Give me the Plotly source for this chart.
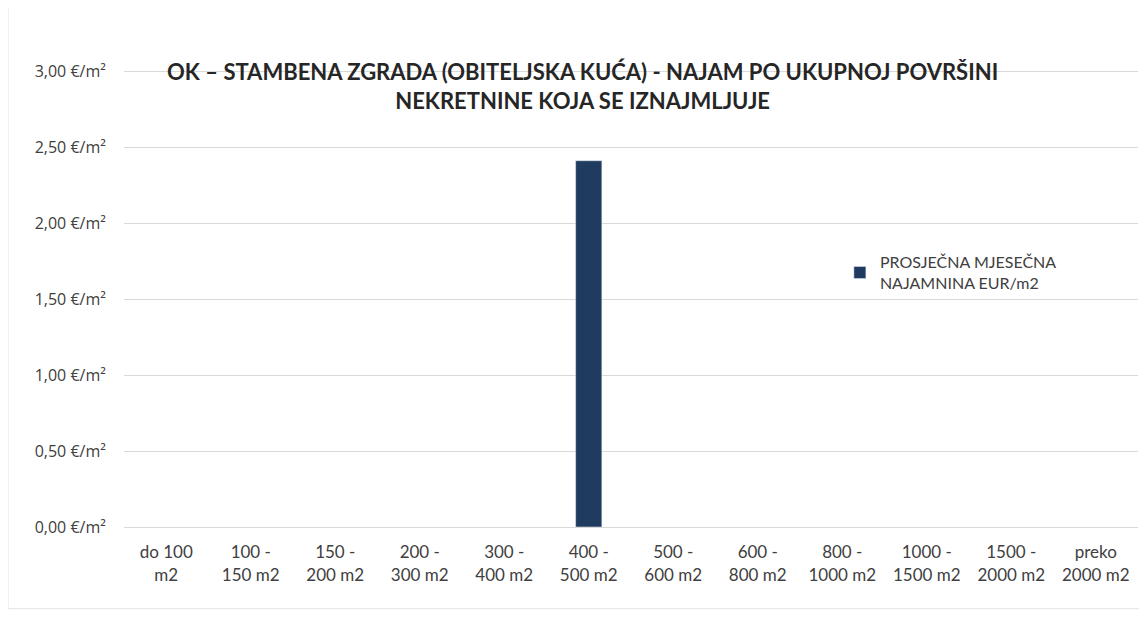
import plotly.graph_objects as go

categories = ["do 100<br>m2", "100 -<br>150 m2", "150 -<br>200 m2", "200 -<br>300 m2",
              "300 -<br>400 m2", "400 -<br>500 m2", "500 -<br>600 m2", "600 -<br>800 m2",
              "800 -<br>1000 m2", "1000 -<br>1500 m2", "1500 -<br>2000 m2", "preko<br>2000 m2"]
values = [None, None, None, None, None, 2.41, None, None, None, None, None, None]
series_name = "PROSJEČNA MJESEČNA<br>NAJAMNINA EUR/m2"
y_tick_vals = [0, 0.5, 1.0, 1.5, 2.0, 2.5, 3.0]
y_tick_text = ["0,00 €/m²", "0,50 €/m²", "1,00 €/m²", "1,50 €/m²", "2,00 €/m²", "2,50 €/m²", "3,00 €/m²"]
title_text = "<b>OK – STAMBENA ZGRADA (OBITELJSKA KUĆA) - NAJAM PO UKUPNOJ POVRŠINI<br>NEKRETNINE KOJA SE IZNAJMLJUJE</b>"

font_family = "Lato, Liberation Sans, sans-serif"

fig = go.Figure()
fig.add_trace(go.Bar(x=categories, y=values, name=series_name,
                     marker=dict(color="#1f3b60"), width=0.31, showlegend=True))

fig.update_layout(
    width=1147, height=622,
    paper_bgcolor="white", plot_bgcolor="white",
    margin=dict(l=116, r=17, t=60, b=103),
    font=dict(family=font_family, size=16, color="#404040"),
    title=dict(text=title_text, x=0.501, xanchor="center", y=0.884, yanchor="middle",
               font=dict(family=font_family, size=22, color="#262626")),
    showlegend=True,
    legend=dict(x=0.706, y=0.614, xanchor="left", yanchor="top",
                font=dict(family=font_family, size=16, color="#404040"),
                bgcolor="rgba(0,0,0,0)", itemwidth=30),
    xaxis=dict(showgrid=False, showline=False, ticks="outside", ticklen=10,
               tickcolor="rgba(0,0,0,0)", tickfont=dict(size=17, color="#404040")),
    yaxis=dict(range=[0, 3.02], tickvals=y_tick_vals, ticktext=y_tick_text,
               showgrid=True, gridcolor="#d9d9d9", gridwidth=1,
               zeroline=True, zerolinecolor="#d9d9d9", zerolinewidth=1,
               ticks="outside", ticklen=14, tickcolor="rgba(0,0,0,0)",
               tickfont=dict(family="Open Sans, Lato, sans-serif", size=16, color="#404040")),
    bargap=0.69,
)
fig.add_shape(type="rect", xref="paper", yref="paper", x0=-0.1144, x1=1.03, y0=-0.178, y1=1.2,
              line=dict(color="#e3e3e3", width=1), layer="below")

fig.write_html("out.html")
